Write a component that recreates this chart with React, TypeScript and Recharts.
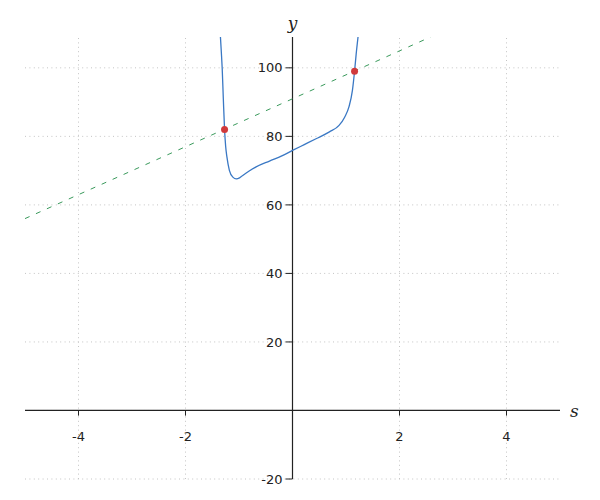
import { ComposedChart, Line, Scatter, XAxis, YAxis, ReferenceLine } from 'recharts'

// curve values
const curveS = [-1.347, -1.33, -1.314, -1.293, -1.27, -1.25, -1.226, -1.18, -1.115, -1.05, -0.99, -0.93, -0.81, -0.68, -0.43, -0.2, 0, 0.22, 0.44, 0.69, 0.87, 0.975, 1.055, 1.12, 1.16, 1.19, 1.225]
const curveY = [109, 104.5, 99.8, 91, 82.0, 77.2, 74.0, 70.1, 68.1, 67.6, 67.9, 68.6, 69.9, 71.1, 72.8, 74.3, 75.9, 77.6, 79.3, 81.3, 83.2, 85.6, 88.6, 93.4, 99.0, 104.0, 109]

// dashed straight line end points
const lineS = [-5, 2.58]
const lineY = [56, 109]

// intersection points
const pointS = [-1.27, 1.16]
const pointY = [82, 99]

const xTicks = [-4, -2, 2, 4]
const yTicks = [-20, 20, 40, 60, 80, 100]
const xGrid = [-4, -2, 0, 2, 4]
const yGrid = [-20, 0, 20, 40, 60, 80, 100]
const xDomain = [-5, 5]
const yDomain = [-20, 109]

const curveData = curveS.map((s, i) => ({ s, y: curveY[i] }))
const lineData = lineS.map((s, i) => ({ s, y: lineY[i] }))
const pointData = pointS.map((s, i) => ({ s, y: pointY[i] }))

const tickFont = { fill: '#222', fontSize: 13, fontFamily: 'DejaVu Sans' }
const axisColor = '#222'
const gridColor = '#c4c4c4'
const gridDash = '1 3.4'

export default function App() {
  return (
    <div style={{ position: 'absolute', left: 0, top: 0, width: 600, height: 500, background: '#fff' }}>
      <ComposedChart width={600} height={500} margin={{ top: 37, right: 40, left: 25, bottom: 21 }}>
        <XAxis dataKey="s" type="number" domain={xDomain} hide allowDataOverflow />
        <YAxis dataKey="y" type="number" domain={yDomain} hide allowDataOverflow />

        {/* dotted grid */}
        {xGrid.map((t) => (
          <ReferenceLine key={'gx' + t} x={t} stroke={gridColor} strokeDasharray={gridDash} />
        ))}
        {yGrid.map((t) => (
          <ReferenceLine key={'gy' + t} y={t} stroke={gridColor} strokeDasharray={gridDash} />
        ))}

        {/* axes through the origin */}
        <ReferenceLine
          segment={[{ x: -5, y: 0 }, { x: 5, y: 0 }]}
          stroke={axisColor}
          strokeWidth={1.2}
          label={{ value: 's', position: 'right', offset: 10, fill: '#222', fontSize: 17, fontStyle: 'italic', fontFamily: 'DejaVu Serif' }}
        />
        <ReferenceLine
          segment={[{ x: 0, y: -20 }, { x: 0, y: 109 }]}
          stroke={axisColor}
          strokeWidth={1.2}
          label={{ value: 'y', position: 'top', offset: 8, fill: '#222', fontSize: 17, fontStyle: 'italic', fontFamily: 'DejaVu Serif' }}
        />
        {xTicks.map((t) => (
          <ReferenceLine
            key={'x' + t}
            segment={[{ x: t, y: 0 }, { x: t, y: -1.5 }]}
            stroke={axisColor}
            label={{ value: String(t), position: 'bottom', offset: 16, ...tickFont }}
          />
        ))}
        {yTicks.map((t) => (
          <ReferenceLine
            key={'y' + t}
            segment={[{ x: -0.13, y: t }, { x: 0, y: t }]}
            stroke={axisColor}
            label={{ value: String(t), position: 'left', offset: 3, ...tickFont }}
          />
        ))}

        <Line
          data={lineData}
          dataKey="y"
          type="linear"
          stroke="#3a9a5c"
          strokeWidth={1}
          strokeDasharray="5 7"
          dot={false}
          activeDot={false}
          isAnimationActive={false}
        />
        <Line
          data={curveData}
          dataKey="y"
          type="monotone"
          stroke="#3a78c4"
          strokeWidth={1.3}
          dot={false}
          activeDot={false}
          isAnimationActive={false}
        />
        <Scatter data={pointData} dataKey="y" fill="#d0393b" shape={(p: any) => <circle cx={p.cx} cy={p.cy} r={3.5} fill="#d0393b" />} isAnimationActive={false} />
      </ComposedChart>
    </div>
  )
}
